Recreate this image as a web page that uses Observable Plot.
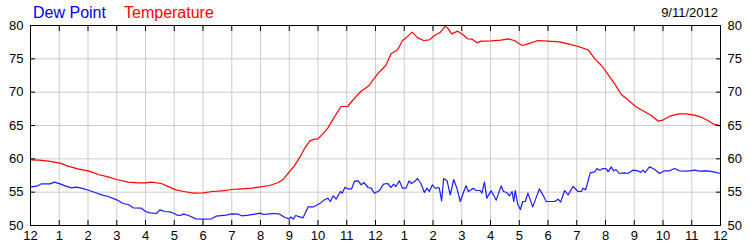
<!DOCTYPE html>
<html><head><meta charset="utf-8">
<script src="https://cdn.jsdelivr.net/npm/d3@7"></script>
<script src="https://cdn.jsdelivr.net/npm/@observablehq/plot@0.6"></script>
<style>
body{margin:0;background:#fff;}
#wrap{position:relative;width:750px;height:250px;font-family:Arial,"Liberation Sans",sans-serif;}
.t{position:absolute;white-space:nowrap;}
</style></head><body>
<div id="wrap">
  <span class="t" style="left:33px;top:5px;font-size:16px;line-height:16px;color:#0000ff">Dew Point</span>
  <span class="t" style="left:124px;top:5px;font-size:16px;line-height:16px;color:#ff0000">Temperature</span>
  <span class="t" style="right:32px;top:6px;font-size:13px;line-height:13px;color:#000">9/11/2012</span>
</div>
<script>
const hourTicks = [0,1,2,3,4,5,6,7,8,9,10,11,12,13,14,15,16,17,18,19,20,21,22,23,24];
const hourLabels = ["12","1","2","3","4","5","6","7","8","9","10","11","12","1","2","3","4","5","6","7","8","9","10","11","12"];
const yTicks = [50,55,60,65,70,75,80];

const tempHours = [0,0.3,0.63,1.03,1.3,1.65,2.04,2.35,2.7,3.0,3.4,3.75,4.0,4.2,4.55,4.84,5.05,5.33,5.7,6.0,6.33,6.67,7.0,7.35,7.7,8.0,8.32,8.62,8.8,9.0,9.17,9.37,9.54,9.72,9.87,10.0,10.2,10.34,10.57,10.8,11.03,11.2,11.5,11.78,12.07,12.36,12.54,12.77,12.94,13.06,13.27,13.47,13.68,13.88,14.05,14.26,14.43,14.51,14.65,14.86,15.03,15.21,15.36,15.53,15.67,16.02,16.37,16.6,16.83,17.1,17.3,17.65,18.0,18.4,18.7,19.05,19.4,19.63,19.86,20.03,20.32,20.55,20.78,21.05,21.24,21.59,21.84,22.02,22.23,22.57,22.8,23.1,23.33,23.56,23.74,24.0];
const tempValues = [59.85,59.8,59.65,59.35,58.9,58.5,58.15,57.65,57.3,56.9,56.5,56.4,56.4,56.5,56.3,55.75,55.35,55.1,54.85,54.9,55.1,55.2,55.4,55.5,55.6,55.8,56.0,56.45,56.95,58.05,58.9,60.25,61.6,62.7,62.95,63.0,63.9,64.6,66.25,67.85,67.85,68.75,70.15,71.0,72.75,74.0,75.75,76.35,77.75,78.15,79.0,78.15,77.75,77.85,78.5,79.0,79.9,79.6,78.75,79.15,78.65,78.0,77.95,77.4,77.65,77.7,77.8,78.0,77.75,77.0,77.25,77.75,77.65,77.55,77.25,76.85,76.35,75.0,74.0,73.0,71.25,69.65,68.85,67.85,67.35,66.5,65.65,65.85,66.4,66.75,66.75,66.55,66.25,65.75,65.25,64.95];

const dewHours = [0,0.25,0.38,0.68,0.83,1.03,1.2,1.43,1.6,1.78,2.04,2.25,2.48,2.7,3.0,3.22,3.4,3.57,3.86,4.0,4.15,4.38,4.5,4.67,4.84,5.0,5.1,5.2,5.33,5.5,5.75,6.0,6.3,6.45,6.8,7.0,7.23,7.35,7.58,7.8,8.0,8.1,8.32,8.5,8.67,8.85,9.0,9.06,9.14,9.22,9.37,9.48,9.66,9.84,10.0,10.1,10.2,10.34,10.43,10.53,10.63,10.78,10.84,10.94,11.03,11.17,11.27,11.4,11.5,11.6,11.74,11.85,11.96,12.13,12.28,12.42,12.54,12.63,12.71,12.83,12.94,13.06,13.17,13.25,13.35,13.46,13.58,13.7,13.79,13.87,13.98,14.08,14.16,14.22,14.3,14.37,14.49,14.6,14.72,14.83,14.95,15.07,15.15,15.23,15.4,15.5,15.64,15.7,15.79,15.87,16.02,16.2,16.37,16.45,16.57,16.66,16.75,16.81,16.86,16.95,17.04,17.12,17.21,17.3,17.47,17.7,17.82,17.94,18.23,18.35,18.44,18.58,18.7,18.87,19.05,19.16,19.22,19.31,19.47,19.62,19.7,19.8,19.91,20.03,20.09,20.2,20.28,20.37,20.48,20.66,20.78,20.95,21.13,21.22,21.3,21.38,21.53,21.7,21.88,22.05,22.23,22.4,22.57,22.86,23.1,23.27,23.45,23.62,23.8,24.0];
const dewValues = [55.75,55.95,56.25,56.25,56.5,56.25,55.95,55.65,55.75,55.6,55.25,54.95,54.6,54.35,53.85,53.3,53.15,52.65,52.6,52.1,51.9,51.8,52.35,52.1,52.05,51.8,51.55,51.5,51.7,51.5,51.0,50.95,51.0,51.4,51.55,51.75,51.7,51.45,51.55,51.7,51.85,51.65,51.75,51.8,51.7,51.2,51.0,51.3,50.95,51.5,51.3,51.15,52.8,52.8,53.15,53.4,53.8,54.1,53.6,54.45,53.95,55.1,54.85,55.75,55.5,55.5,56.65,56.7,56.1,56.45,55.7,55.6,54.85,55.2,56.2,56.3,55.7,56.2,55.85,56.7,55.6,55.6,56.7,56.3,56.55,57.05,56.3,54.95,55.6,55.1,56.1,55.55,55.7,55.6,53.7,57.05,56.7,54.6,56.9,55.6,53.6,55.1,55.95,55.1,55.6,55.25,55.25,54.85,56.5,54.1,55.2,53.8,55.95,55.1,54.95,54.45,55.1,53.6,55.25,53.15,52.4,53.6,53.6,54.85,52.8,55.5,54.6,53.6,53.6,53.95,53.5,55.25,54.6,55.85,55.1,55.1,55.6,55.35,57.9,58.05,58.55,58.3,58.55,58.5,58.05,58.8,58.2,58.4,57.8,57.9,57.8,58.3,58.2,57.95,58.3,57.95,58.8,58.45,57.8,58.2,58.2,58.55,58.2,58.15,58.3,58.15,58.2,58.15,58.0,57.8];

const temp = tempHours.map((h, i) => ({h, v: tempValues[i]}));
const dew = dewHours.map((h, i) => ({h, v: dewValues[i]}));

const font = "Arial, 'Liberation Sans', sans-serif";
const plot = Plot.plot({
  width: 750, height: 250,
  marginLeft: 30, marginRight: 30, marginTop: 25, marginBottom: 25,
  style: {fontFamily: font, fontSize: "13px", color: "#000", background: "#fff"},
  x: {domain: [0, 24]},
  y: {domain: [50, 80]},
  marks: [
    Plot.gridX(hourTicks, {stroke: "#cccccc", strokeOpacity: 1}),
    Plot.gridY(yTicks, {stroke: "#cccccc", strokeOpacity: 1}),
    Plot.line(dew, {x: "h", y: "v", stroke: "#1a1aff", strokeWidth: 1.2}),
    Plot.line(temp, {x: "h", y: "v", stroke: "#ff0000", strokeWidth: 1.2}),
    Plot.frame({stroke: "#000"}),
    Plot.axisX(hourTicks, {anchor: "bottom", tickSize: -5, tickPadding: 10, tickFormat: (d) => hourLabels[d], label: null}),
    Plot.axisX(hourTicks, {anchor: "top", tickSize: -5, tickFormat: () => "", label: null}),
    Plot.axisY(yTicks, {anchor: "left", tickSize: -5, tickPadding: 12, label: null}),
    Plot.axisY(yTicks, {anchor: "right", tickSize: -5, tickPadding: 12, label: null})
  ]
});
document.getElementById("wrap").appendChild(plot);
</script>
</body></html>
